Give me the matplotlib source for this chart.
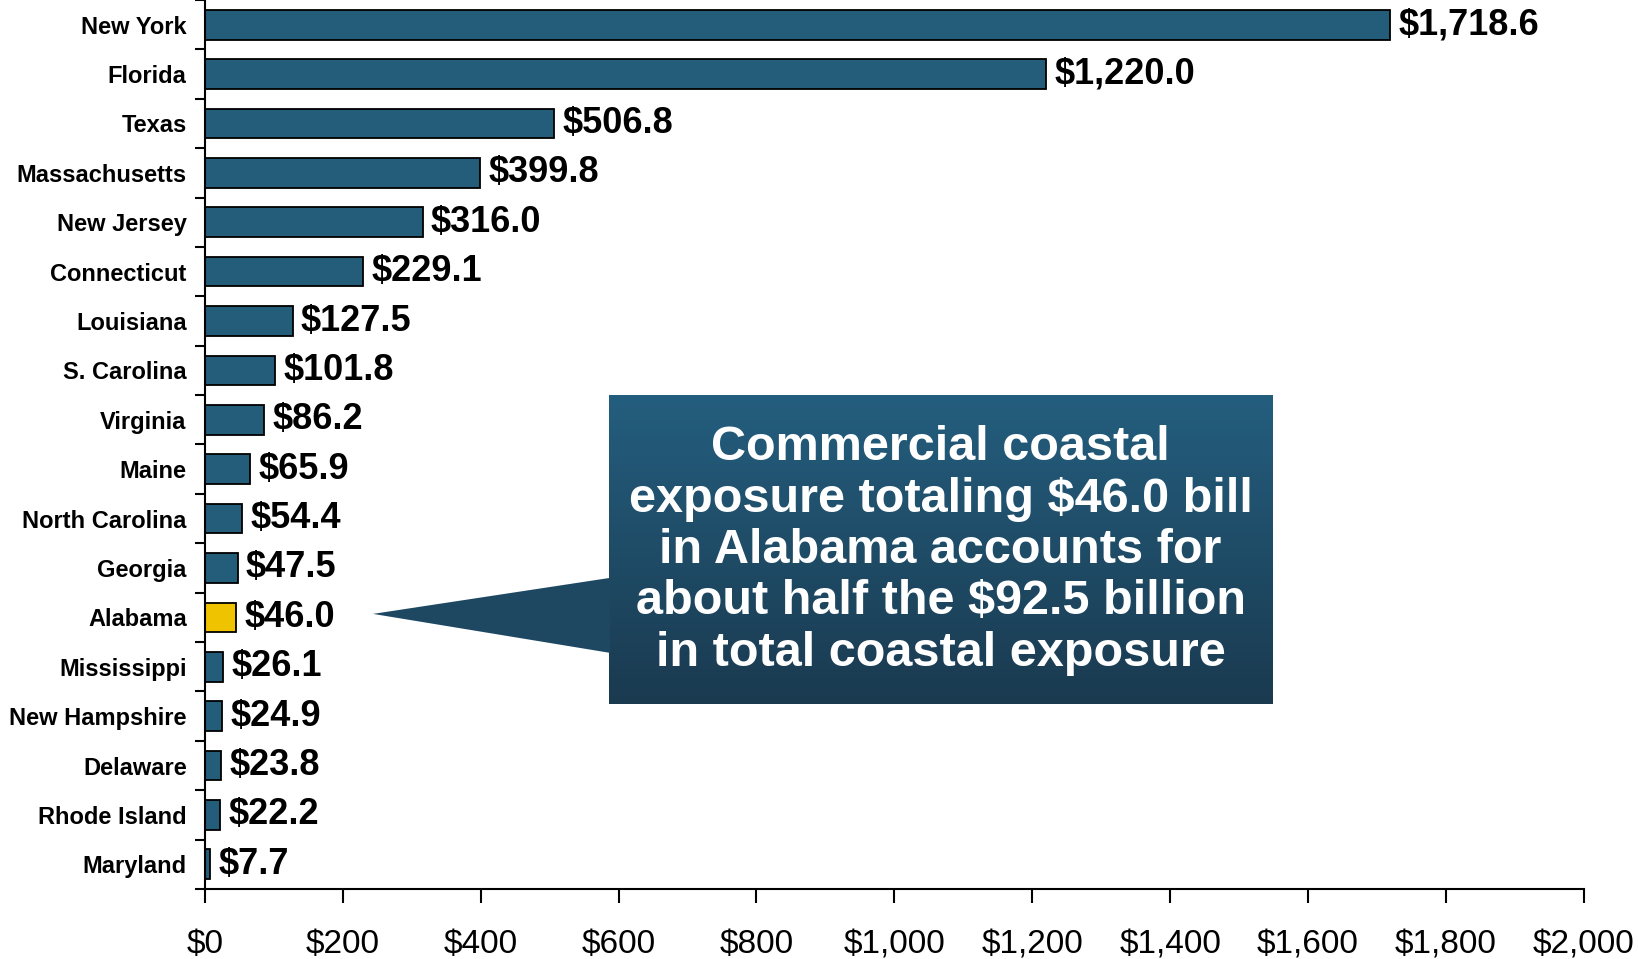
import numpy as np
import matplotlib
matplotlib.use("Agg")
import matplotlib.pyplot as plt
from matplotlib.colors import LinearSegmentedColormap
from matplotlib.patches import Polygon
from matplotlib.ticker import FuncFormatter, FixedLocator

plt.rcParams['font.family'] = ['Liberation Sans', 'DejaVu Sans']

# Coastal commercial exposure by state ($ billions)
states = ["New York", "Florida", "Texas", "Massachusetts", "New Jersey",
          "Connecticut", "Louisiana", "S. Carolina", "Virginia", "Maine",
          "North Carolina", "Georgia", "Alabama", "Mississippi",
          "New Hampshire", "Delaware", "Rhode Island", "Maryland"]
values = [1718.6, 1220.0, 506.8, 399.8, 316.0, 229.1, 127.5, 101.8, 86.2,
          65.9, 54.4, 47.5, 46.0, 26.1, 24.9, 23.8, 22.2, 7.7]
highlight = "Alabama"
x_ticks = [0, 200, 400, 600, 800, 1000, 1200, 1400, 1600, 1800, 2000]

callout = ("Commercial coastal\nexposure totaling $46.0 bill\n"
           "in Alabama accounts for\nabout half the $92.5 billion\n"
           "in total coastal exposure")

blue = "#245D7A"
gold = "#F0C300"

fig = plt.figure(figsize=(16.38, 9.59), dpi=100)
ax = fig.add_axes([0.125, 0.073, 0.842, 0.927])

y = np.arange(len(states))
colors = [gold if s == highlight else blue for s in states]
ax.barh(y, values, height=0.6, color=colors, edgecolor="black", linewidth=1.3)

for yi, v in zip(y, values):
    ax.annotate(f"${v:,.1f}", (v, yi), xytext=(6, 0), textcoords="offset points",
                va="center", ha="left", fontsize=26, fontweight="bold")

ax.set_yticks(y)
ax.set_yticklabels(states, fontsize=17, fontweight="bold")
ax.yaxis.set_minor_locator(FixedLocator(np.arange(-0.5, len(states), 1.0)))
ax.tick_params(axis="y", which="major", length=0, pad=13)
ax.tick_params(axis="y", which="minor", length=7, width=1.5, direction="out")

ax.set_xticks(x_ticks)
ax.xaxis.set_major_formatter(FuncFormatter(lambda v, p: f"${v:,.0f}"))
ax.tick_params(axis="x", length=10, width=1.5, labelsize=24, pad=19)

for side in ["top", "right"]:
    ax.spines[side].set_visible(False)
for side in ["left", "bottom"]:
    ax.spines[side].set_linewidth(1.5)

# callout box with vertical gradient and a pointer toward Alabama
box_x0, box_x1 = 586, 1548
box_top, box_bot = 7.5, 13.75
cmap = LinearSegmentedColormap.from_list("callout", ["#245E7E", "#1A3A50"])
grad = np.linspace(0, 1, 256).reshape(-1, 1)
ax.imshow(grad, extent=[box_x0, box_x1, box_bot, box_top], origin="upper",
          aspect="auto", cmap=cmap, zorder=3, clip_on=False)

pointer = Polygon([[box_x0 + 2, 11.2], [244, 11.93], [box_x0 + 2, 12.72]],
                  closed=True, facecolor="#1E4862", edgecolor="none", zorder=3)
ax.add_patch(pointer)

ax.text((box_x0 + box_x1) / 2, (box_top + box_bot) / 2 + 0.02, callout,
        ha="center", va="center", color="white", fontsize=35,
        fontweight="bold", linespacing=1.18, zorder=4)

ax.set_xlim(0, 2000)
ax.set_ylim(len(states) - 0.5, -0.5)

fig.savefig("out.png", dpi=100)
